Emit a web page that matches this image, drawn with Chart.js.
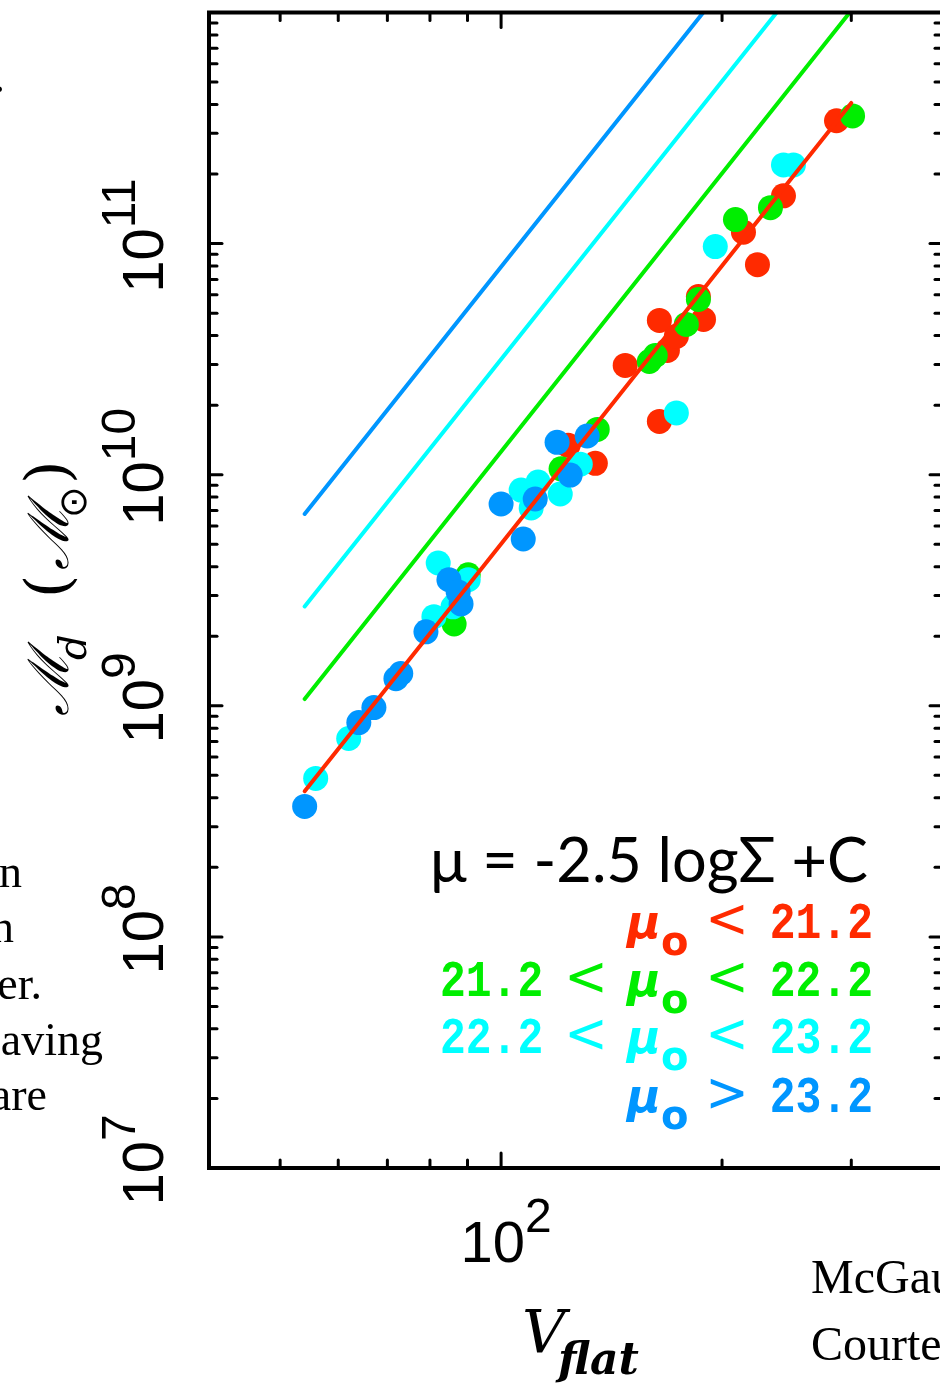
<!DOCTYPE html>
<html lang="en">
<head>
    <meta charset="UTF-8">
    <title>Disk mass vs V_flat</title>
    <script src="https://cdn.jsdelivr.net/npm/chart.js@4"></script>
    <style>
        html, body { margin: 0; padding: 0; background: #fff; overflow: hidden; }
        #wrap { width: 960px; height: 1384px; }
    </style>
</head>
<body>
<div id="wrap"><canvas id="tf" width="960" height="1384"></canvas></div>

<script>
    // --- data (V_flat in km/s, M_d in solar masses) ---
    const redV   = [123.4, 134.4, 147.6, 164.3, 164.3, 168.5, 173.3, 185.7, 188.7, 213.9, 223.5, 242.5, 286.4];
    const redM   = [1.34e10, 1.12e10, 2.97e10, 1.70e10, 4.65e10, 3.45e10, 3.97e10, 5.90e10, 4.70e10, 1.12e11, 8.11e10, 1.61e11, 3.40e11];

    const greenV = [86.3, 90.2, 120.7, 135.2, 159.2, 162.2, 178.8, 185.7, 208.6, 232.8, 301.2];
    const greenM = [2.26e9, 3.69e9, 1.06e10, 1.57e10, 3.09e10, 3.28e10, 4.47e10, 5.73e10, 1.27e11, 1.43e11, 3.57e11];

    const cyanV  = [55.9, 62.0, 81.0, 86.0, 82.1, 90.2, 106.5, 112.3, 109.9, 120.4, 128.2, 173.3, 195.8, 242.5, 250.2];
    const cyanM  = [4.85e8, 7.22e8, 2.43e9, 2.68e9, 4.15e9, 3.51e9, 8.58e9, 9.29e9, 7.18e9, 8.25e9, 1.11e10, 1.85e10, 9.71e10, 2.19e11, 2.19e11];

    const blueV  = [54.0, 64.0, 67.1, 71.9, 73.0, 79.0, 88.2, 84.9, 87.4, 100, 107.2, 111.3, 124.2, 119.2, 131.0];
    const blueM  = [3.67e8, 8.46e8, 9.82e8, 1.31e9, 1.38e9, 2.09e9, 2.76e9, 3.51e9, 3.11e9, 7.47e9, 5.27e9, 7.85e9, 9.96e9, 1.38e10, 1.47e10];

    // end points of the four M ~ V^4 lines
    const lineV      = [54, 300];
    const redLineM   = [4.27e8, 4.06e11];
    const greenLineM = [1.07e9, 1.02e12];
    const cyanLineM  = [2.69e9, 2.55e12];
    const blueLineM  = [6.76e9, 6.40e12];

    // axes
    const xMin = 40, xMax = 400, yMin = 1e7, yMax = 1e12;
    const xMajorTicks = [100];
    const xMinorTicks = [50, 60, 70, 80, 90, 200, 300];
    const xTickLabels = [100];
    const yMajorTicks = [1e7, 1e8, 1e9, 1e10, 1e11, 1e12];
    const yTickLabels = [1e7, 1e8, 1e9, 1e10, 1e11];

    const colRed = '#ff2a00', colGreen = '#00ee00', colCyan = '#00ffff', colBlue = '#0096ff';

    const yMinorTicks = [];
    for (let d = 7; d < 12; d++) for (let k = 2; k <= 9; k++) yMinorTicks.push(k * Math.pow(10, d));

    const pts = (vs, ms) => vs.map((v, i) => ({ x: v, y: ms[i] }));

    function dots(data, color, order) {
        return { data, order, showLine: false, pointRadius: 12.5, pointHoverRadius: 12.5,
                 pointBorderWidth: 0, pointBackgroundColor: color, backgroundColor: color, borderColor: color };
    }
    function fitLine(data, color, order) {
        return { data, order, showLine: true, pointRadius: 0, borderWidth: 4,
                 borderColor: color, borderCapStyle: 'round' };
    }

    // IDL-style frame, inward ticks and all the text
    const idlAxes = {
        id: 'idlAxes',
        afterDraw(chart) {
            const { ctx, chartArea: a, scales: { x, y } } = chart;
            ctx.save();
            ctx.strokeStyle = '#000';
            ctx.fillStyle = '#000';
            ctx.lineCap = 'round';
            ctx.lineWidth = 3;
            const seg = (x1, y1, x2, y2) => { ctx.beginPath(); ctx.moveTo(x1, y1); ctx.lineTo(x2, y2); ctx.stroke(); };

            yMinorTicks.forEach(v => { const p = y.getPixelForValue(v); seg(a.left, p, a.left + 8, p); seg(a.right, p, a.right - 8, p); });
            yMajorTicks.forEach(v => { const p = y.getPixelForValue(v); seg(a.left, p, a.left + 13, p); seg(a.right, p, a.right - 13, p); });
            xMinorTicks.forEach(v => { const p = x.getPixelForValue(v); seg(p, a.bottom, p, a.bottom - 8); seg(p, a.top, p, a.top + 8); });
            xMajorTicks.forEach(v => { const p = x.getPixelForValue(v); seg(p, a.bottom, p, a.bottom - 15); seg(p, a.top, p, a.top + 15); });

            ctx.lineWidth = 4;
            ctx.lineCap = 'square';
            ctx.strokeRect(a.left, a.top, a.right - a.left, a.bottom - a.top);

            // tick labels 10^n
            const mainF = '58px "Liberation Sans"', supF = '48px "Liberation Sans"';
            ctx.textBaseline = 'alphabetic';
            ctx.textAlign = 'left';
            yTickLabels.forEach(v => {
                const p = y.getPixelForValue(v);
                const e = String(Math.round(Math.log10(v)));
                ctx.save();
                ctx.translate(163, p);
                ctx.rotate(-Math.PI / 2);
                ctx.font = mainF; const w1 = ctx.measureText('10').width;
                ctx.font = supF;  const w2 = ctx.measureText(e).width;
                const s = 8 - (w1 + w2) / 2;
                ctx.font = mainF; ctx.fillText('10', s, 0);
                ctx.font = supF;  ctx.fillText(e, s + w1, -28);
                ctx.restore();
            });
            xTickLabels.forEach(v => {
                const p = x.getPixelForValue(v);
                const e = String(Math.round(Math.log10(v)));
                ctx.font = mainF; const w1 = ctx.measureText('10').width;
                ctx.font = supF;  const w2 = ctx.measureText(e).width;
                const s = p + 5 - (w1 + w2) / 2;
                ctx.font = mainF; ctx.fillText('10', s, 1262);
                ctx.font = supF;  ctx.fillText(e, s + w1, 1232);
            });

            // y title: M_d (M_sun)
            ctx.save();
            ctx.translate(68, 716);
            ctx.rotate(-Math.PI / 2);
            ctx.font = 'italic 56px "DejaVu Serif"';
            ctx.fillText('ℳ', 0, 0);
            ctx.font = 'italic 40px "DejaVu Serif"';
            ctx.fillText('d', 56, 18);
            ctx.font = '60px "DejaVu Serif"';
            ctx.fillText('(', 118, 0);
            ctx.font = 'italic 56px "DejaVu Serif"';
            ctx.fillText('ℳ', 146, 0);
            ctx.font = '38px "DejaVu Sans"';
            ctx.fillText('⊙', 198, 18);
            ctx.font = '60px "DejaVu Serif"';
            ctx.fillText(')', 232, 0);
            ctx.restore();

            // x title: V_flat
            ctx.font = 'italic 60px "DejaVu Serif"';
            ctx.fillText('V', 522, 1353);
            ctx.font = 'bold italic 44px "DejaVu Serif"';
            ctx.fillText('flat', 558, 1374);

            // formula
            ctx.font = '100px Lato';
            const fw = ctx.measureText('μ = -2.5 logΣ +C').width;
            ctx.font = (100 * 438 / fw).toFixed(1) + 'px Lato';
            ctx.fillText('μ = -2.5 logΣ +C', 430, 882);

            // legend rows
            const stretched = (txt, px, base, align, font, sy) => {
                ctx.save();
                ctx.font = font;
                ctx.textAlign = align;
                ctx.translate(px, base);
                ctx.scale(1, sy);
                ctx.fillText(txt, 0, 0);
                ctx.restore();
            };
            const numF = 'bold 43px "Liberation Mono"', opF = '52px "DejaVu Sans"';
            const row = (color, base, leftNum, op, rightNum) => {
                ctx.fillStyle = color;
                if (leftNum) {
                    stretched(leftNum, 440, base, 'left', numF, 1.22);
                    stretched('<', 586, base - 1, 'center', opF, 1.05);
                }
                ctx.textAlign = 'left';
                ctx.font = 'bold oblique 46px "DejaVu Sans"';
                ctx.fillText('μ', 627, base);
                ctx.font = 'bold 40px "DejaVu Sans"';
                ctx.fillText('o', 661, base + 17);
                stretched(op, 727, base - 1, 'center', opF, 1.05);
                stretched(rightNum, 873, base, 'right', numF, 1.22);
            };
            row(colRed,   938,  null,   '<', '21.2');
            row(colGreen, 996,  '21.2', '<', '22.2');
            row(colCyan,  1053, '22.2', '<', '23.2');
            row(colBlue,  1112, null,   '>', '23.2');

            // text of neighbouring slide columns
            ctx.fillStyle = '#000';
            ctx.font = '46px "Liberation Serif"';
            ctx.textAlign = 'right';
            [['.', 5, 92], ['n', 22, 887], ['n', 14, 942], ['er.', 42, 999], ['aving', 103, 1055], ['are', 47, 1110]]
                .forEach(([t, px, py]) => ctx.fillText(t, px, py));
            ctx.textAlign = 'left';
            ctx.font = '48px "Liberation Serif"';
            ctx.fillText('McGau', 811, 1293);
            ctx.fillText('Courte', 811, 1360);
            ctx.restore();
        }
    };

    new Chart(document.getElementById('tf'), {
        type: 'scatter',
        data: {
            datasets: [
                fitLine(pts(lineV, redLineM), colRed, 0),
                fitLine(pts(lineV, greenLineM), colGreen, 1),
                fitLine(pts(lineV, cyanLineM), colCyan, 1),
                fitLine(pts(lineV, blueLineM), colBlue, 1),
                dots(pts(blueV, blueM), colBlue, 2),
                dots(pts(cyanV, cyanM), colCyan, 3),
                dots(pts(greenV, greenM), colGreen, 4),
                dots(pts(redV, redM), colRed, 5)
            ]
        },
        options: {
            responsive: false,
            devicePixelRatio: 1,
            animation: false,
            layout: { padding: { left: 209, top: 11, right: 17, bottom: 216 } },
            plugins: { legend: { display: false }, tooltip: { enabled: false } },
            scales: {
                x: { type: 'logarithmic', min: xMin, max: xMax, display: false },
                y: { type: 'logarithmic', min: yMin, max: yMax, display: false }
            }
        },
        plugins: [idlAxes]
    });
</script>
</body>
</html>
